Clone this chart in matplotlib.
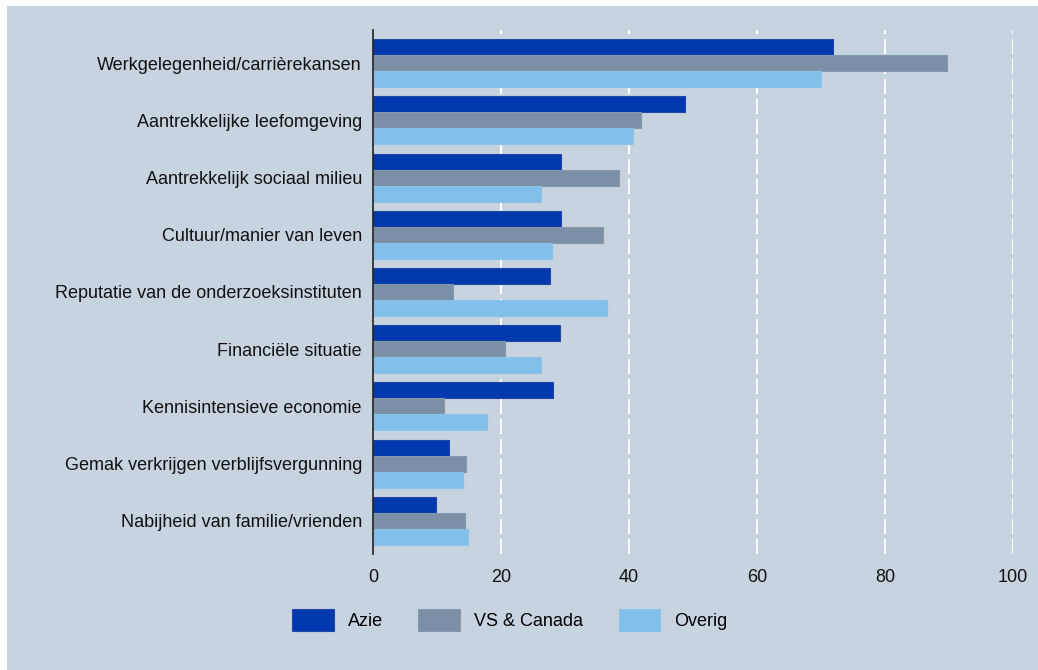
import matplotlib
matplotlib.use("Agg")
import matplotlib.pyplot as plt
import numpy as np
from matplotlib.patches import Rectangle

categories = [
    "Werkgelegenheid/carrièrekansen",
    "Aantrekkelijke leefomgeving",
    "Aantrekkelijk sociaal milieu",
    "Cultuur/manier van leven",
    "Reputatie van de onderzoeksinstituten",
    "Financiële situatie",
    "Kennisintensieve economie",
    "Gemak verkrijgen verblijfsvergunning",
    "Nabijheid van familie/vrienden",
]
azie = [71.8, 48.7, 29.4, 29.4, 27.6, 29.2, 28.2, 11.9, 9.8]
vs_canada = [89.7, 41.8, 38.4, 35.9, 12.5, 20.7, 11.1, 14.6, 14.3]
overig = [70.0, 40.6, 26.2, 28.0, 36.6, 26.3, 17.8, 14.1, 14.9]
series_names = ["Azie", "VS & Canada", "Overig"]
xticks = [0, 20, 40, 60, 80, 100]

colors = ["#0039AE", "#7B90A6", "#82BFEA"]
edge_colors = ["#1F47A8", "#8598AC", "#8CC2E8"]
bg = "#C7D3DF"

plt.rcParams['font.family'] = ['Liberation Sans', 'DejaVu Sans']
FS = 13.0

W, H = 1038, 670
fig = plt.figure(figsize=(W / 100, H / 100), dpi=100)
fig.patch.set_facecolor("white")
fig.patches.append(Rectangle((7 / W, 0), 1 - 7 / W, 1 - 6 / H, transform=fig.transFigure,
                             facecolor=bg, edgecolor="none", zorder=-10))

left, right = 373 / W, 1013 / W
top, bottom = 1 - 30 / H, 1 - 554 / H
ax = fig.add_axes([left, bottom, right - left, top - bottom])
ax.set_facecolor(bg)
ax.patch.set_alpha(0)

n = len(categories)
y = np.arange(n)
h = 0.28
for i, (vals, c, ec, name) in enumerate(zip([azie, vs_canada, overig], colors, edge_colors, series_names)):
    ax.barh(y + (i - 1) * h, vals, height=h, color=c, edgecolor=ec, linewidth=0.8,
            label=name, zorder=3)

ax.set_ylim(n - 0.42, -0.58)
ax.set_xlim(0, 100)
ax.set_xticks(xticks)
ax.set_xticklabels([str(t) for t in xticks], fontsize=FS)
ax.set_yticks(y)
ax.set_yticklabels(categories, fontsize=FS)
ax.tick_params(axis='both', length=0, colors="#111111")
ax.tick_params(axis='x', pad=11)
ax.tick_params(axis='y', pad=8)

for t in xticks[1:]:
    ax.axvline(t, color="white", linestyle=(0, (7.2, 2.4)), linewidth=1.5, zorder=1)

for s in ["top", "right", "bottom"]:
    ax.spines[s].set_visible(False)
ax.spines["left"].set_color("#222222")
ax.spines["left"].set_linewidth(1.2)
ax.spines["left"].set_zorder(4)

leg = fig.legend(loc="center", bbox_to_anchor=(510 / W, 1 - 620 / H), ncol=3,
                 frameon=False, fontsize=FS, handlelength=2.3, handleheight=1.5,
                 handletextpad=0.8, columnspacing=1.95)

fig.savefig("out.png", dpi=100, facecolor=fig.get_facecolor())
